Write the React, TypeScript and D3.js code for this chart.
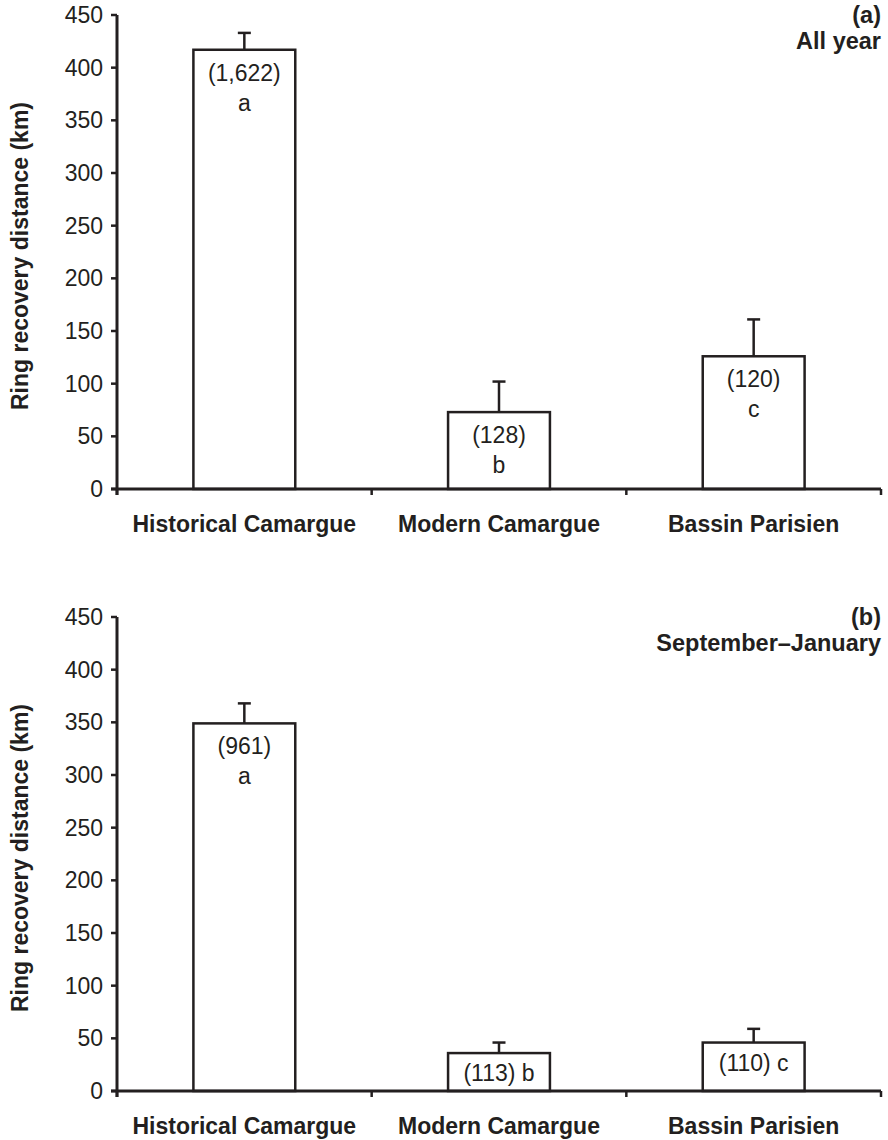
import { useRef, useEffect } from 'react';
import * as d3 from 'd3';

const W = 888;
const H = 1140;
const INK = '#231f20';
const FONT = 'Arial, "Liberation Sans", Helvetica, sans-serif';
const FS = 23;

const categories = ['Historical Camargue', 'Modern Camargue', 'Bassin Parisien'];
const yTicks = [0, 50, 100, 150, 200, 250, 300, 350, 400, 450];

// (a) All year
const allYearMeans = [417, 73, 126];
const allYearSE = [16, 29, 35];
const allYearN = ['(1,622)', '(128)', '(120)'];
const allYearLetters = ['a', 'b', 'c'];
const allYearInline = [false, false, false];

// (b) September–January
const sepJanMeans = [349, 36, 46];
const sepJanSE = [19, 10, 13];
const sepJanN = ['(961)', '(113)', '(110)'];
const sepJanLetters = ['a', 'b', 'c'];
const sepJanInline = [false, true, true];

const panels = [
  { tag: '(a)', title: 'All year', means: allYearMeans, se: allYearSE, n: allYearN, letters: allYearLetters, inline: allYearInline },
  { tag: '(b)', title: 'September\u2013January', means: sepJanMeans, se: sepJanSE, n: sepJanN, letters: sepJanLetters, inline: sepJanInline },
];

export default function App() {
  const ref = useRef<SVGSVGElement>(null);

  useEffect(() => {
    const svg = d3.select(ref.current);
    svg.selectAll('*').remove();

    const x0 = 117;
    const x1 = 881;
    const top = 15;
    const bottom = 489;
    const panelOffset = 602;

    const x = d3.scaleBand<string>().domain(categories).range([x0, x1]).padding(0);
    const barW = x.bandwidth() * 0.4;
    const y = d3.scaleLinear().domain([0, 450]).range([bottom, top]);

    panels.forEach((p, pi) => {
      const g = svg.append('g').attr('transform', `translate(0,${pi * panelOffset})`);

      // bars + error bars
      p.means.forEach((m, i) => {
        const cx = (x(categories[i]) as number) + x.bandwidth() / 2;
        const upper = m + p.se[i];
        g.append('line').attr('x1', cx).attr('x2', cx).attr('y1', y(m)).attr('y2', y(upper))
          .attr('stroke', INK).attr('stroke-width', 2.5);
        g.append('line').attr('x1', cx - 6.5).attr('x2', cx + 6.5).attr('y1', y(upper)).attr('y2', y(upper))
          .attr('stroke', INK).attr('stroke-width', 2.5);
        g.append('rect').attr('x', cx - barW / 2).attr('y', y(m)).attr('width', barW).attr('height', y(0) - y(m))
          .attr('fill', '#fff').attr('stroke', INK).attr('stroke-width', 2.5);

        const tx = g.append('text').attr('x', cx).attr('text-anchor', 'middle')
          .attr('font-family', FONT).attr('font-size', FS).attr('fill', INK);
        if (p.inline[i]) {
          tx.attr('y', y(m) + 28).text(`${p.n[i]} ${p.letters[i]}`);
        } else {
          tx.attr('y', y(m) + 31).text(p.n[i]);
          g.append('text').attr('x', cx).attr('y', y(m) + 61).attr('text-anchor', 'middle')
            .attr('font-family', FONT).attr('font-size', FS).attr('fill', INK).text(p.letters[i]);
        }
      });

      // y axis
      g.append('line').attr('x1', x0).attr('x2', x0).attr('y1', y(450)).attr('y2', y(0) + 6)
        .attr('stroke', INK).attr('stroke-width', 3);
      yTicks.forEach(t => {
        g.append('line').attr('x1', x0 - 6).attr('x2', x0).attr('y1', y(t)).attr('y2', y(t))
          .attr('stroke', INK).attr('stroke-width', 2.5);
        g.append('text').attr('x', x0 - 14).attr('y', y(t)).attr('dy', '0.35em').attr('text-anchor', 'end')
          .attr('font-family', FONT).attr('font-size', FS).attr('fill', INK).text(t);
      });

      // x axis
      g.append('line').attr('x1', x0 - 6).attr('x2', x1).attr('y1', y(0)).attr('y2', y(0))
        .attr('stroke', INK).attr('stroke-width', 3);
      [...categories.map(c => x(c) as number), x1].forEach(tx => {
        g.append('line').attr('x1', tx).attr('x2', tx).attr('y1', y(0)).attr('y2', y(0) + 6)
          .attr('stroke', INK).attr('stroke-width', 2.5);
      });
      categories.forEach(c => {
        g.append('text').attr('x', (x(c) as number) + x.bandwidth() / 2).attr('y', y(0) + 43)
          .attr('text-anchor', 'middle').attr('font-family', FONT).attr('font-size', FS)
          .attr('font-weight', 'bold').attr('fill', INK).text(c);
      });

      // y title
      g.append('text').attr('transform', `translate(28,${(top + bottom) / 2 + 4}) rotate(-90)`)
        .attr('text-anchor', 'middle').attr('font-family', FONT).attr('font-size', FS)
        .attr('font-weight', 'bold').attr('fill', INK).text('Ring recovery distance (km)');

      // panel labels
      g.append('text').attr('x', x1).attr('y', 23).attr('text-anchor', 'end').attr('font-family', FONT)
        .attr('font-size', 23.5).attr('font-weight', 'bold').attr('fill', INK).text(p.tag);
      g.append('text').attr('x', x1).attr('y', 49).attr('text-anchor', 'end').attr('font-family', FONT)
        .attr('font-size', 23.5).attr('font-weight', 'bold').attr('fill', INK).text(p.title);
    });
  }, []);

  return (
    <svg ref={ref} width={W} height={H} style={{ position: 'absolute', left: 0, top: 0, background: '#fff' }} />
  );
}
